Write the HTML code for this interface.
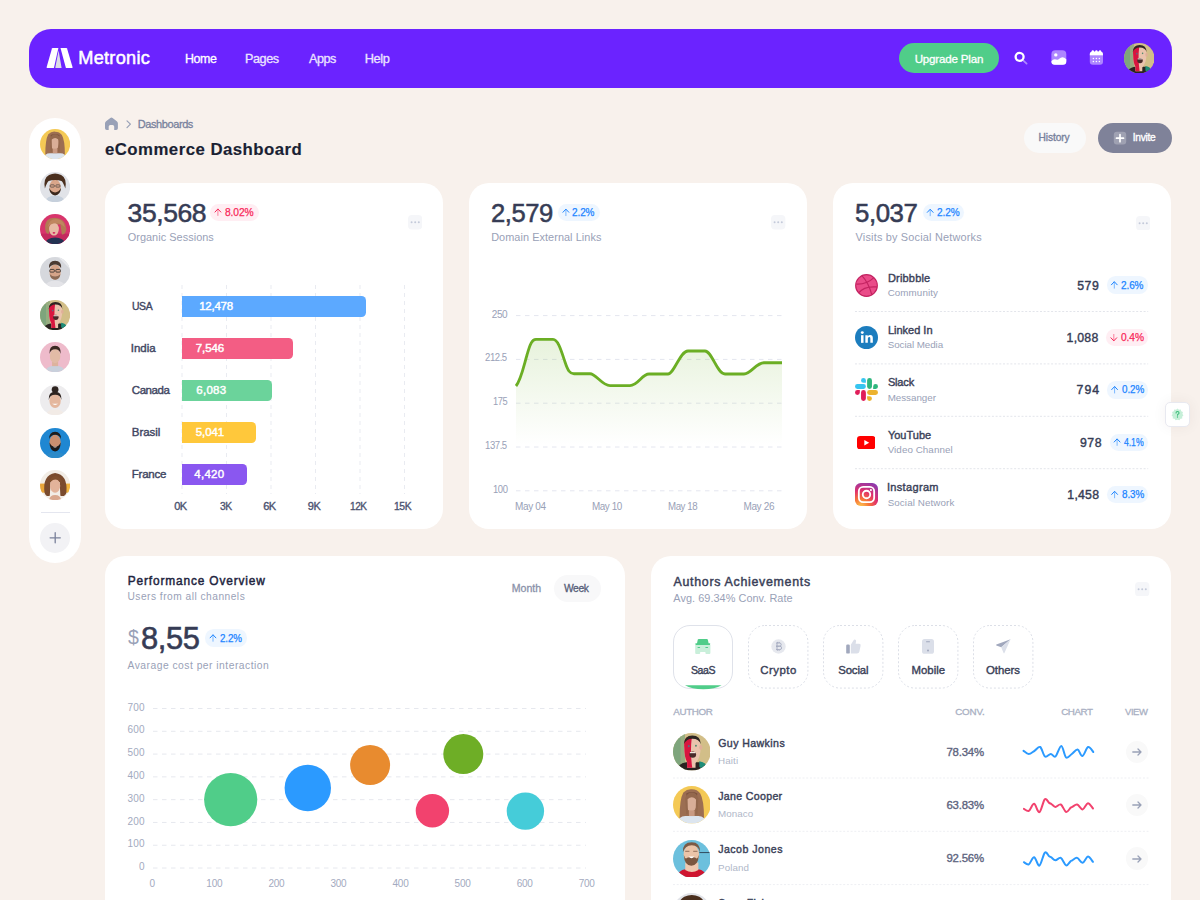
<!DOCTYPE html>
<html><head><meta charset="utf-8"><title>eCommerce Dashboard</title><style>*{margin:0;padding:0}
html,body{width:1200px;height:900px;overflow:hidden}
body{background:#F8F1EC;font-family:"Liberation Sans",sans-serif;position:relative}
.r,.a,.t{position:absolute}
.t{white-space:nowrap;line-height:1}
</style></head>
<body>
<div class="r" style="left:29px;top:28.5px;width:1142.5px;height:59px;border-radius:22px;background:#6B23FF"></div>
<svg class="a" style="left:46px;top:48px;width:27px;height:20px" viewBox="0 0 27 20"><path d="M1.2 20 L7.4 20 Q7.9 20 8.05 19.5 L12.4 0 L6.6 0 Q6.1 0 5.95 0.5 L0.6 19.3 Q0.45 20 1.2 20Z" fill="#fff"/><path d="M12.6 2.5 L9.3 19.6 Q9.2 20 9.6 20 L15.6 20 Z" fill="#DCDCE6"/><path d="M14.5 0 L20.4 0 Q20.9 0 21.05 0.5 L26.6 19.3 Q26.75 20 26 20 L20.4 20 Q19.9 20 19.75 19.5Z" fill="#fff"/></svg>
<div class="t" style="left:78.25px;top:49.00px;font-size:18.20px;color:#fff;letter-spacing:0.26px;-webkit-text-stroke:0.50px #fff;">Metronic</div>
<div class="t" style="left:184.68px;top:53.00px;font-size:12.80px;color:#fff;letter-spacing:-0.45px;-webkit-text-stroke:0.30px #fff;transform:scaleX(0.970);transform-origin:0 0;">Home</div>
<div class="t" style="left:245.16px;top:53.00px;font-size:12.80px;color:#EBE3FF;letter-spacing:-0.45px;-webkit-text-stroke:0.30px #EBE3FF;transform:scaleX(0.988);transform-origin:0 0;">Pages</div>
<div class="t" style="left:308.85px;top:53.00px;font-size:12.80px;color:#EBE3FF;letter-spacing:-0.45px;-webkit-text-stroke:0.30px #EBE3FF;transform:scaleX(0.985);transform-origin:0 0;">Apps</div>
<div class="t" style="left:364.75px;top:53.00px;font-size:12.80px;color:#EBE3FF;letter-spacing:-0.37px;-webkit-text-stroke:0.30px #EBE3FF;">Help</div>
<div class="r" style="left:899px;top:43px;width:99.5px;height:30px;border-radius:15px;background:#50CD89"></div>
<div class="t" style="left:914.65px;top:53.00px;font-size:11.60px;color:#fff;letter-spacing:-0.20px;-webkit-text-stroke:0.30px #fff;">Upgrade Plan</div>
<svg class="a" style="left:1010px;top:47px;width:22px;height:22px" viewBox="1010 47 22 22"><circle cx="1019.6" cy="56.8" r="4" fill="none" stroke="#fff" stroke-width="2.3"/><path d="M1023.4 60.6 L1026.6 63.6" stroke="#fff" stroke-opacity=".45" stroke-width="1.8" stroke-linecap="round"/></svg>
<svg class="a" style="left:1050px;top:49px;width:18px;height:17px" viewBox="1050 49 18 17"><rect x="1051.4" y="50.3" width="14.9" height="14.4" rx="4" fill="#fff" fill-opacity=".45"/><circle cx="1055.8" cy="54.9" r="1.7" fill="#fff"/><path d="M1051.4 61.2 Q1053.5 58.3 1056.3 59.6 Q1058 60.3 1059.2 58.8 Q1062.6 55.6 1066.3 59.2 L1066.3 61.5 Q1066.3 64.7 1063 64.7 L1054.6 64.7 Q1051.4 64.7 1051.4 61.5Z" fill="#fff"/></svg>
<svg class="a" style="left:1088px;top:48px;width:17px;height:18px" viewBox="1088 48 17 18"><path d="M1089.8 55.6 L1103 55.6 L1103 61.7 Q1103 64.7 1100 64.7 L1092.8 64.7 Q1089.8 64.7 1089.8 61.7Z" fill="#fff" fill-opacity=".45"/><path d="M1089.8 55.6 L1089.8 54.3 Q1089.8 51.6 1092.5 51.6 L1100.3 51.6 Q1103 51.6 1103 54.3 L1103 55.6Z" fill="#fff"/><circle cx="1092.8" cy="51.4" r="1.2" fill="#fff"/><circle cx="1096.4" cy="51.4" r="1.2" fill="#fff"/><circle cx="1100" cy="51.4" r="1.2" fill="#fff"/><g fill="#fff"><circle cx="1093.4" cy="58.6" r=".75"/><circle cx="1096.4" cy="58.6" r=".75"/><circle cx="1099.4" cy="58.6" r=".75"/><circle cx="1093.4" cy="61.4" r=".75"/><circle cx="1096.4" cy="61.4" r=".75"/><circle cx="1099.4" cy="61.4" r=".75"/></g></svg>
<svg class="a" style="left:1123.75px;top:42.75px;width:30.50px;height:30.50px" viewBox="0 0 40 40"><defs><clipPath id="chdr"><circle cx="20" cy="20" r="20"/></clipPath></defs><g clip-path="url(#chdr)"><rect width="40" height="40" fill="#D2BE88"/><path d="M0 0 H13 Q11 20 14 40 H0Z" fill="#7EA57C"/><path d="M8 0 H13 Q11 20 14 40 H8Z" fill="#A7B283" opacity=".6"/><path d="M3 40 Q6 32 14 31 L28 31 Q35 32 38 40Z" fill="#2A2321"/><path d="M28 30 Q34 31 36 35 L33 40 L28 36Z" fill="#1E8C78"/><path d="M12 16 Q11 4 20.5 4 Q30 4 29.5 16 Q29 27 24 32 L24 37 L15 37 L15 31 Q12 26 12 16Z" fill="#EAC3AD"/><path d="M12 16 Q11 5 16 4.5 L20 5 Q18 20 20.5 37 L15 37 L15 31 Q12 26 12 16Z" fill="#D8163F"/><path d="M11.5 12 Q12 2.6 20.5 2.6 Q29.5 2.6 29.6 12 Q28 6 20.5 6 Q14 6 11.5 12Z" fill="#2E2622"/><ellipse cx="29.6" cy="15.5" rx="1.6" ry="2.6" fill="#E0AF98"/><ellipse cx="21" cy="23" rx="3.6" ry="3.4" fill="#4A2A2A"/><rect x="18" y="20.2" width="6" height="1.3" fill="#F3E6E0"/><circle cx="16.8" cy="14" r="1.1" fill="#5C6B80"/><circle cx="24.4" cy="13.6" r="1" fill="#4E8A6E"/></g></svg>
<svg class="a" style="left:104px;top:116px;width:16px;height:16px" viewBox="104 116 16 16"><path d="M105 123.6 Q105 122.2 106.1 121.3 L110.3 117.9 Q111.45 117 112.6 117.9 L116.8 121.3 Q117.9 122.2 117.9 123.6 L117.9 128.3 Q117.9 130.1 116.1 130.1 L114.2 130.1 L114.2 126.6 Q114.2 125 112.6 125 L110.3 125 Q108.7 125 108.7 126.6 L108.7 130.1 L106.8 130.1 Q105 130.1 105 128.3Z" fill="#99A1B7"/></svg>
<svg class="a" style="left:124px;top:118px;width:10px;height:12px" viewBox="124 118 10 12"><path d="M127 120.8 L130.4 124.2 L127 127.6" fill="none" stroke="#99A1B7" stroke-width="1.2" stroke-linecap="round" stroke-linejoin="round"/></svg>
<div class="t" style="left:137.75px;top:119.00px;font-size:11.00px;color:#78829D;letter-spacing:-0.41px;-webkit-text-stroke:0.30px #78829D;">Dashboards</div>
<div class="t" style="left:104.98px;top:142.00px;font-size:16.80px;color:#1A1F33;font-weight:bold;letter-spacing:0.47px;-webkit-text-stroke:0.15px #1A1F33;">eCommerce Dashboard</div>
<div class="r" style="left:1023.5px;top:123px;width:62px;height:30px;border-radius:15px;background:#F9F9F9"></div>
<div class="t" style="left:1038.58px;top:133.00px;font-size:10.20px;color:#78829D;letter-spacing:-0.11px;-webkit-text-stroke:0.35px #78829D;">History</div>
<div class="r" style="left:1097.5px;top:123px;width:74px;height:30px;border-radius:15px;background:#7F8299"></div>
<svg class="a" style="left:1113px;top:131px;width:14px;height:14px" viewBox="1113 131 14 14"><rect x="1113.8" y="131.8" width="12.4" height="12.8" rx="3" fill="#fff" fill-opacity=".25"/><path d="M1120 134.7 V141.7 M1116.5 138.2 H1123.5" stroke="#fff" stroke-width="1.7" stroke-linecap="round"/></svg>
<div class="t" style="left:1132.77px;top:133.00px;font-size:10.20px;color:#fff;letter-spacing:-0.27px;-webkit-text-stroke:0.35px #fff;">Invite</div>
<div class="r" style="left:29px;top:117.6px;width:52.4px;height:445.6px;border-radius:26.2px;background:#fff"></div>
<svg class="a" style="left:40.10px;top:128.90px;width:30.20px;height:30.20px" viewBox="0 0 40 40"><defs><clipPath id="csb0"><circle cx="20" cy="20" r="20"/></clipPath></defs><g clip-path="url(#csb0)"><rect width="40" height="40" fill="#F4C955"/><path d="M7 34 Q7 14 11 7 Q15 3 20 3.5 Q26 3.5 29 8 Q33 15 33 34Z" fill="#9C6E52"/><path d="M14 8 Q20 5 26 8 L25 13 L15 13Z" fill="#7E543E"/><ellipse cx="19.6" cy="18.6" rx="5.6" ry="8.6" fill="#D9AE97"/><path d="M13 13 Q15 7 20 7 Q25 7 27 13 L26 30 L24 30 L24.5 14 Q20 10 15.5 14 L16 30 L14 30Z" fill="#94684D"/><path d="M4 40 Q6 32 13 32 L27 32 Q34 32 36 40Z" fill="#DCE5EF"/><rect x="17" y="26" width="6" height="6" fill="#C99A82"/></g></svg>
<svg class="a" style="left:40.10px;top:171.57px;width:30.20px;height:30.20px" viewBox="0 0 40 40"><defs><clipPath id="csb1"><circle cx="20" cy="20" r="20"/></clipPath></defs><g clip-path="url(#csb1)"><rect width="40" height="40" fill="#E1E3E8"/><path d="M6 40 Q9 31 20 31 Q31 31 34 40Z" fill="#C6D0DC"/><ellipse cx="20" cy="20" rx="7.5" ry="10" fill="#D9A68A"/><path d="M12 21 Q13 31 20 31 Q27 31 28 21 Q25 27 20 27 Q15 27 12 21Z" fill="#3B281C"/><path d="M6.5 22 Q4 8 12 4 Q20 0 28 4 Q36 8 33.5 22 Q31 14 28.5 12 Q20 9 11.5 12 Q9 14 6.5 22Z" fill="#4A2F1E"/><rect x="13.5" y="17" width="5.5" height="3" rx="1" fill="none" stroke="#333" stroke-width=".8"/><rect x="21" y="17" width="5.5" height="3" rx="1" fill="none" stroke="#333" stroke-width=".8"/></g></svg>
<svg class="a" style="left:40.10px;top:214.24px;width:30.20px;height:30.20px" viewBox="0 0 40 40"><defs><clipPath id="csb2"><circle cx="20" cy="20" r="20"/></clipPath></defs><g clip-path="url(#csb2)"><rect width="40" height="40" fill="#D8356C"/><rect x="0" y="26" width="40" height="14" fill="#C42A5E"/><path d="M5 40 Q9 31 20 31 Q31 31 35 40Z" fill="#243252"/><path d="M7 21 Q5 5 20 5 Q34 6 35 20 Q34 28 29 27 L27 14 L13 14 L12 26 Q8 27 7 21Z" fill="#B27A54"/><ellipse cx="18.5" cy="20" rx="6.5" ry="8.5" fill="#E8BBA5"/><path d="M10 17 Q13 5 24 7 Q32 9 33 18 Q25 9 14 14Z" fill="#C08660"/><ellipse cx="18.5" cy="25" rx="1.8" ry="1.2" fill="#D3245C"/></g></svg>
<svg class="a" style="left:40.10px;top:256.91px;width:30.20px;height:30.20px" viewBox="0 0 40 40"><defs><clipPath id="csb3"><circle cx="20" cy="20" r="20"/></clipPath></defs><g clip-path="url(#csb3)"><rect width="40" height="40" fill="#D6D8DD"/><path d="M24 0 L40 16 L40 0Z" fill="#E8E9EC"/><path d="M5 40 Q9 31 20 31 Q31 31 35 40Z" fill="#E4E4E8"/><ellipse cx="20" cy="20" rx="7.5" ry="10" fill="#D5A489"/><path d="M13 23 Q14 30 20 30 Q26 30 27 23 Q24 26 20 26 Q16 26 13 23Z" fill="#8B6A55"/><path d="M12 15 Q11 5 20 5 Q29 5 28 15 Q25 10 20 10 Q15 10 12 15Z" fill="#4A3A32"/><rect x="13" y="16.5" width="6" height="3.5" rx="1" fill="none" stroke="#222" stroke-width="1"/><rect x="21" y="16.5" width="6" height="3.5" rx="1" fill="none" stroke="#222" stroke-width="1"/></g></svg>
<svg class="a" style="left:40.10px;top:299.58px;width:30.20px;height:30.20px" viewBox="0 0 40 40"><defs><clipPath id="csb4"><circle cx="20" cy="20" r="20"/></clipPath></defs><g clip-path="url(#csb4)"><rect width="40" height="40" fill="#D2BE88"/><path d="M0 0 H13 Q11 20 14 40 H0Z" fill="#7EA57C"/><path d="M8 0 H13 Q11 20 14 40 H8Z" fill="#A7B283" opacity=".6"/><path d="M3 40 Q6 32 14 31 L28 31 Q35 32 38 40Z" fill="#2A2321"/><path d="M28 30 Q34 31 36 35 L33 40 L28 36Z" fill="#1E8C78"/><path d="M12 16 Q11 4 20.5 4 Q30 4 29.5 16 Q29 27 24 32 L24 37 L15 37 L15 31 Q12 26 12 16Z" fill="#EAC3AD"/><path d="M12 16 Q11 5 16 4.5 L20 5 Q18 20 20.5 37 L15 37 L15 31 Q12 26 12 16Z" fill="#D8163F"/><path d="M11.5 12 Q12 2.6 20.5 2.6 Q29.5 2.6 29.6 12 Q28 6 20.5 6 Q14 6 11.5 12Z" fill="#2E2622"/><ellipse cx="29.6" cy="15.5" rx="1.6" ry="2.6" fill="#E0AF98"/><ellipse cx="21" cy="23" rx="3.6" ry="3.4" fill="#4A2A2A"/><rect x="18" y="20.2" width="6" height="1.3" fill="#F3E6E0"/><circle cx="16.8" cy="14" r="1.1" fill="#5C6B80"/><circle cx="24.4" cy="13.6" r="1" fill="#4E8A6E"/></g></svg>
<svg class="a" style="left:40.10px;top:342.25px;width:30.20px;height:30.20px" viewBox="0 0 40 40"><defs><clipPath id="csb5"><circle cx="20" cy="20" r="20"/></clipPath></defs><g clip-path="url(#csb5)"><rect width="40" height="40" fill="#EEBBCB"/><path d="M6 40 Q9 31 20 31 Q31 31 34 40Z" fill="#C9D0DC"/><rect x="16" y="26" width="8" height="6" fill="#DDB39E"/><ellipse cx="20" cy="18.5" rx="7" ry="9.5" fill="#E2BBA6"/><path d="M12.5 16 Q12 5 20 5 Q28 5 27.5 16 Q26 9.5 20 9.5 Q14 9.5 12.5 16Z" fill="#3B2A22"/></g></svg>
<svg class="a" style="left:40.10px;top:384.92px;width:30.20px;height:30.20px" viewBox="0 0 40 40"><defs><clipPath id="csb6"><circle cx="20" cy="20" r="20"/></clipPath></defs><g clip-path="url(#csb6)"><rect width="40" height="40" fill="#EDECEE"/><path d="M7 40 Q10 32 20 32 Q30 32 33 40Z" fill="#F2EBE6"/><ellipse cx="20" cy="21" rx="7.5" ry="9.5" fill="#E4B79E"/><circle cx="20" cy="6" r="4.5" fill="#2E2420"/><path d="M11.5 20 Q11 9 20 9 Q29 9 28.5 20 Q27 13 20 13 Q13 13 11.5 20Z" fill="#2E2420"/><path d="M16 25 Q20 28 24 25Z" fill="#fff"/></g></svg>
<svg class="a" style="left:40.10px;top:427.59px;width:30.20px;height:30.20px" viewBox="0 0 40 40"><defs><clipPath id="csb7"><circle cx="20" cy="20" r="20"/></clipPath></defs><g clip-path="url(#csb7)"><rect width="40" height="40" fill="#1F87D2"/><path d="M5 40 Q9 31 20 31 Q31 31 35 40Z" fill="#2C8AC9"/><ellipse cx="20" cy="19" rx="7.5" ry="10" fill="#C98F70"/><path d="M12.5 19 Q13 31 20 31 Q27 31 27.5 19 Q25 25 20 25 Q15 25 12.5 19Z" fill="#1C1A1A"/><path d="M12 15 Q12 5 20 5 Q28 5 28 15 Q26 9 20 9 Q14 9 12 15Z" fill="#1E1C1C"/><path d="M17 25 Q20 27 23 25Z" fill="#fff"/></g></svg>
<svg class="a" style="left:40.10px;top:470.26px;width:30.20px;height:30.20px" viewBox="0 0 40 40"><defs><clipPath id="csb8"><circle cx="20" cy="20" r="20"/></clipPath></defs><g clip-path="url(#csb8)"><rect width="40" height="40" fill="#F2EDE6"/><rect x="0" y="18" width="9" height="12" fill="#E8A53A"/><rect x="31" y="18" width="9" height="12" fill="#F0B540"/><path d="M6 30 Q3 7 20 4 Q37 6 35 30 Q33 36 27 34 L26 16 L14 16 L13 34 Q8 36 6 30Z" fill="#7A4B2E"/><path d="M12 40 Q13 33 20 33 Q27 33 28 40Z" fill="#D9A88E"/><ellipse cx="20" cy="21" rx="6.8" ry="9" fill="#E2B39A"/><path d="M12 18 Q13 8 21 8 Q29 9 29 18 Q25 11 18 13 Q14 14 12 18Z" fill="#80502F"/></g></svg>
<div class="r" style="left:41px;top:512px;width:28.6px;height:1px;background:#E4E6EF"></div>
<div class="r" style="left:40px;top:523px;width:30.2px;height:30.2px;border-radius:50%;background:#F2F2F5"></div>
<svg class="a" style="left:48px;top:531px;width:14px;height:14px" viewBox="48 531 14 14"><path d="M55.2 532.7 V542.8 M50.1 537.8 H60.3" stroke="#7A819B" stroke-width="1.3" stroke-linecap="round"/></svg>
<div class="r" style="left:104.60px;top:182.80px;width:338.60px;height:346.30px;border-radius:20px;background:#fff"></div>
<div class="t" style="left:127.58px;top:200.00px;font-size:26.50px;color:#363C55;letter-spacing:-0.41px;-webkit-text-stroke:0.55px #363C55;">35,568</div>
<div class="r" style="left:210.30px;top:203.70px;width:48.40px;height:17.30px;border-radius:8.65px;background:#FFEEF3"></div>
<svg class="a" style="left:0;top:0;width:1200px;height:900px;overflow:visible" viewBox="0 0 1200 900"><g fill="none" stroke="#F8285A" stroke-width="1" stroke-linecap="round" stroke-linejoin="round"><path d="M215.00 212.05 L217.90 208.95 L220.80 212.05"/><path d="M217.90 209.15 V215.45" stroke-opacity=".55"/></g></svg>
<div class="t" style="left:224.82px;top:207.00px;font-size:10.50px;color:#F8285A;letter-spacing:-0.10px;-webkit-text-stroke:0.25px #F8285A;transform:scaleX(0.977);transform-origin:0 0;">8.02%</div>
<div class="t" style="left:127.70px;top:232.00px;font-size:10.90px;color:#99A1B7;letter-spacing:0.05px;">Organic Sessions</div>
<svg class="a" style="left:407.50px;top:215.20px;width:14.4px;height:14.4px" viewBox="0 0 14.4 14.4"><rect width="14.4" height="14.4" rx="4" fill="#F5F6F9"/><g fill="#C4CADA"><circle cx="3.6" cy="7.2" r="1"/><circle cx="7.2" cy="7.2" r="1"/><circle cx="10.8" cy="7.2" r="1"/></g></svg>
<svg class="a" style="left:0;top:0;width:1200px;height:900px" viewBox="0 0 1200 900"><g stroke="#E9EBF1" stroke-width="1" stroke-dasharray="4 4"><path d="M182.0 285 V494"/><path d="M226.5 285 V494"/><path d="M271.0 285 V494"/><path d="M315.5 285 V494"/><path d="M360.0 285 V494"/><path d="M404.5 285 V494"/></g></svg>
<div class="r" style="left:182px;top:295.75px;width:184.25px;height:21px;border-radius:0 4.5px 4.5px 0;background:#5CA9FF"></div>
<div class="t" style="left:131.78px;top:301.00px;font-size:11.50px;color:#3F4662;letter-spacing:-0.45px;-webkit-text-stroke:0.40px #3F4662;transform:scaleX(0.905);transform-origin:0 0;">USA</div>
<div class="t" style="left:199.22px;top:301.00px;font-size:11.50px;color:#fff;letter-spacing:-0.25px;-webkit-text-stroke:0.45px #fff;">12,478</div>
<div class="r" style="left:182px;top:337.80px;width:111.20px;height:21px;border-radius:0 4.5px 4.5px 0;background:#F35D84"></div>
<div class="t" style="left:130.80px;top:343.00px;font-size:11.50px;color:#3F4662;letter-spacing:-0.04px;-webkit-text-stroke:0.40px #3F4662;">India</div>
<div class="t" style="left:195.82px;top:343.00px;font-size:11.50px;color:#fff;letter-spacing:-0.11px;-webkit-text-stroke:0.45px #fff;">7,546</div>
<div class="r" style="left:182px;top:379.70px;width:89.70px;height:21px;border-radius:0 4.5px 4.5px 0;background:#6BD39B"></div>
<div class="t" style="left:131.80px;top:385.00px;font-size:11.50px;color:#3F4662;letter-spacing:-0.45px;-webkit-text-stroke:0.40px #3F4662;">Canada</div>
<div class="t" style="left:196.22px;top:385.00px;font-size:11.50px;color:#fff;letter-spacing:0.29px;-webkit-text-stroke:0.45px #fff;">6,083</div>
<div class="r" style="left:182px;top:421.60px;width:74.40px;height:21px;border-radius:0 4.5px 4.5px 0;background:#FFC83B"></div>
<div class="t" style="left:131.80px;top:427.00px;font-size:11.50px;color:#3F4662;letter-spacing:-0.06px;-webkit-text-stroke:0.40px #3F4662;">Brasil</div>
<div class="t" style="left:195.82px;top:427.00px;font-size:11.50px;color:#fff;letter-spacing:-0.11px;-webkit-text-stroke:0.45px #fff;">5,041</div>
<div class="r" style="left:182px;top:463.50px;width:65.20px;height:21px;border-radius:0 4.5px 4.5px 0;background:#8A57F0"></div>
<div class="t" style="left:131.80px;top:469.00px;font-size:11.50px;color:#3F4662;letter-spacing:-0.26px;-webkit-text-stroke:0.40px #3F4662;">France</div>
<div class="t" style="left:194.22px;top:469.00px;font-size:11.50px;color:#fff;letter-spacing:0.29px;-webkit-text-stroke:0.45px #fff;">4,420</div>
<div class="t" style="left:174.17px;top:501.00px;font-size:11.00px;color:#4B5270;letter-spacing:-0.45px;-webkit-text-stroke:0.35px #4B5270;">0K</div>
<div class="t" style="left:219.66px;top:501.00px;font-size:11.00px;color:#4B5270;letter-spacing:-0.45px;-webkit-text-stroke:0.35px #4B5270;transform:scaleX(0.935);transform-origin:0 0;">3K</div>
<div class="t" style="left:263.17px;top:501.00px;font-size:11.00px;color:#4B5270;letter-spacing:-0.45px;-webkit-text-stroke:0.35px #4B5270;">6K</div>
<div class="t" style="left:307.77px;top:501.00px;font-size:11.00px;color:#4B5270;letter-spacing:-0.45px;-webkit-text-stroke:0.35px #4B5270;">9K</div>
<div class="t" style="left:350.16px;top:501.00px;font-size:11.00px;color:#4B5270;letter-spacing:-0.45px;-webkit-text-stroke:0.35px #4B5270;transform:scaleX(0.914);transform-origin:0 0;">12K</div>
<div class="t" style="left:394.16px;top:501.00px;font-size:11.00px;color:#4B5270;letter-spacing:-0.45px;-webkit-text-stroke:0.35px #4B5270;transform:scaleX(0.940);transform-origin:0 0;">15K</div>
<div class="r" style="left:468.80px;top:182.80px;width:338.20px;height:346.30px;border-radius:20px;background:#fff"></div>
<div class="t" style="left:491.10px;top:200.00px;font-size:26.50px;color:#363C55;letter-spacing:-0.45px;-webkit-text-stroke:0.55px #363C55;transform:scaleX(0.966);transform-origin:0 0;">2,579</div>
<div class="r" style="left:558.30px;top:203.90px;width:41.40px;height:17.30px;border-radius:8.65px;background:#EEF6FF"></div>
<svg class="a" style="left:0;top:0;width:1200px;height:900px;overflow:visible" viewBox="0 0 1200 900"><g fill="none" stroke="#1B84FF" stroke-width="1" stroke-linecap="round" stroke-linejoin="round"><path d="M563.00 212.25 L565.90 209.15 L568.80 212.25"/><path d="M565.90 209.35 V215.65" stroke-opacity=".55"/></g></svg>
<div class="t" style="left:572.42px;top:207.00px;font-size:10.50px;color:#1B84FF;letter-spacing:-0.10px;-webkit-text-stroke:0.25px #1B84FF;transform:scaleX(0.951);transform-origin:0 0;">2.2%</div>
<div class="t" style="left:491.20px;top:232.00px;font-size:10.90px;color:#99A1B7;letter-spacing:0.06px;">Domain External Links</div>
<svg class="a" style="left:771.30px;top:215.40px;width:14.4px;height:14.4px" viewBox="0 0 14.4 14.4"><rect width="14.4" height="14.4" rx="4" fill="#F5F6F9"/><g fill="#C4CADA"><circle cx="3.6" cy="7.2" r="1"/><circle cx="7.2" cy="7.2" r="1"/><circle cx="10.8" cy="7.2" r="1"/></g></svg>
<svg class="a" style="left:0;top:0;width:1200px;height:900px" viewBox="0 0 1200 900"><g stroke="#E4E6EF" stroke-width="1" stroke-dasharray="4.5 4.5"><path d="M516 315.6 H783"/><path d="M516 359.4 H783"/><path d="M516 403.2 H783"/><path d="M516 447.0 H783"/><path d="M516 490.8 H783"/></g><defs><linearGradient id="ag" x1="0" y1="0" x2="0" y2="1"><stop offset="0" stop-color="#6BAE24" stop-opacity=".16"/><stop offset="1" stop-color="#6BAE24" stop-opacity="0"/></linearGradient></defs><path d="M516 386 C521 380 524 365 527 355 C530 344 532 339.4 536 339.4 L553 339.4 C558 339.4 561 350 565 362 C568 371 570 373.75 574 373.75 L590 373.75 C596 373.75 602 385.6 610 385.6 L630 385.6 C638 385.6 642 374 649 374 L668 374 C674 374 680 351 688 351 L705 351 C712 351 717 374 725 374 L744 374 C751 374 756 362.75 764 362.75 L782 362.75 L782 445 L516 445 Z" fill="url(#ag)"/><path d="M516 386 C521 380 524 365 527 355 C530 344 532 339.4 536 339.4 L553 339.4 C558 339.4 561 350 565 362 C568 371 570 373.75 574 373.75 L590 373.75 C596 373.75 602 385.6 610 385.6 L630 385.6 C638 385.6 642 374 649 374 L668 374 C674 374 680 351 688 351 L705 351 C712 351 717 374 725 374 L744 374 C751 374 756 362.75 764 362.75 L782 362.75" fill="none" stroke="#6BAE24" stroke-width="2.8" stroke-linejoin="round"/></svg>
<div class="t" style="left:491.80px;top:310.00px;font-size:10.00px;color:#99A1B7;letter-spacing:-0.45px;">250</div>
<div class="t" style="left:485.40px;top:353.00px;font-size:10.00px;color:#99A1B7;letter-spacing:-0.45px;transform:scaleX(0.955);transform-origin:0 0;">212.5</div>
<div class="t" style="left:493.00px;top:397.00px;font-size:10.00px;color:#99A1B7;letter-spacing:-0.45px;transform:scaleX(0.925);transform-origin:0 0;">175</div>
<div class="t" style="left:485.40px;top:441.00px;font-size:10.00px;color:#99A1B7;letter-spacing:-0.45px;transform:scaleX(0.955);transform-origin:0 0;">137.5</div>
<div class="t" style="left:492.70px;top:485.00px;font-size:10.00px;color:#99A1B7;letter-spacing:-0.45px;transform:scaleX(0.943);transform-origin:0 0;">100</div>
<div class="t" style="left:515.00px;top:502.00px;font-size:10.00px;color:#99A1B7;letter-spacing:-0.33px;">May 04</div>
<div class="t" style="left:591.80px;top:502.00px;font-size:10.00px;color:#99A1B7;letter-spacing:-0.45px;transform:scaleX(0.988);transform-origin:0 0;">May 10</div>
<div class="t" style="left:668.00px;top:502.00px;font-size:10.00px;color:#99A1B7;letter-spacing:-0.45px;transform:scaleX(0.968);transform-origin:0 0;">May 18</div>
<div class="t" style="left:743.40px;top:502.00px;font-size:10.00px;color:#99A1B7;letter-spacing:-0.33px;">May 26</div>
<div class="r" style="left:832.60px;top:182.80px;width:338.60px;height:346.30px;border-radius:20px;background:#fff"></div>
<div class="t" style="left:854.89px;top:200.00px;font-size:26.50px;color:#363C55;letter-spacing:-0.45px;-webkit-text-stroke:0.55px #363C55;transform:scaleX(0.974);transform-origin:0 0;">5,037</div>
<div class="r" style="left:922.60px;top:204.00px;width:41.70px;height:17.30px;border-radius:8.65px;background:#EEF6FF"></div>
<svg class="a" style="left:0;top:0;width:1200px;height:900px;overflow:visible" viewBox="0 0 1200 900"><g fill="none" stroke="#1B84FF" stroke-width="1" stroke-linecap="round" stroke-linejoin="round"><path d="M927.30 212.35 L930.20 209.25 L933.10 212.35"/><path d="M930.20 209.45 V215.75" stroke-opacity=".55"/></g></svg>
<div class="t" style="left:936.62px;top:207.00px;font-size:10.50px;color:#1B84FF;letter-spacing:-0.10px;-webkit-text-stroke:0.25px #1B84FF;transform:scaleX(0.956);transform-origin:0 0;">2.2%</div>
<div class="t" style="left:855.60px;top:232.00px;font-size:10.90px;color:#99A1B7;letter-spacing:0.19px;">Visits by Social Networks</div>
<svg class="a" style="left:1135.60px;top:215.60px;width:14.4px;height:14.4px" viewBox="0 0 14.4 14.4"><rect width="14.4" height="14.4" rx="4" fill="#F5F6F9"/><g fill="#C4CADA"><circle cx="3.6" cy="7.2" r="1"/><circle cx="7.2" cy="7.2" r="1"/><circle cx="10.8" cy="7.2" r="1"/></g></svg>
<svg class="a" style="left:0;top:0;width:1200px;height:900px" viewBox="0 0 1200 900"><g stroke="#E3E5EB" stroke-width="1" stroke-dasharray="2 1.7"><path d="M855 311.5 H1148.2"/><path d="M855 363.9 H1148.2"/><path d="M855 416.3 H1148.2"/><path d="M855 468.7 H1148.2"/></g></svg>
<svg class="a" style="left:854.80px;top:273.60px;width:23px;height:23px" viewBox="0 0 24 24"><circle cx="12" cy="12" r="11.3" fill="#EA4C89" stroke="#C32361" stroke-width="1.2"/><g fill="none" stroke="#C32361" stroke-width="1.2"><path d="M1.5 10.5 Q12 11 19.5 4"/><path d="M7.2 1.8 Q14 9 17.5 21.5"/><path d="M4.2 19.5 Q9 12.5 22.7 13.5"/></g></svg>
<div class="t" style="left:887.90px;top:273.00px;font-size:11.00px;color:#3A3F58;letter-spacing:0.19px;-webkit-text-stroke:0.40px #3A3F58;">Dribbble</div>
<div class="t" style="left:887.70px;top:288.00px;font-size:9.80px;color:#99A1B7;letter-spacing:0.08px;">Community</div>
<div class="r" style="left:1106.70px;top:276.45px;width:41.50px;height:17.30px;border-radius:8.65px;background:#EEF6FF"></div>
<svg class="a" style="left:0;top:0;width:1200px;height:900px;overflow:visible" viewBox="0 0 1200 900"><g fill="none" stroke="#1B84FF" stroke-width="1" stroke-linecap="round" stroke-linejoin="round"><path d="M1111.40 284.80 L1114.30 281.70 L1117.20 284.80"/><path d="M1114.30 281.90 V288.20" stroke-opacity=".55"/></g></svg>
<div class="t" style="left:1121.22px;top:280.00px;font-size:10.50px;color:#1B84FF;letter-spacing:-0.10px;-webkit-text-stroke:0.25px #1B84FF;transform:scaleX(0.951);transform-origin:0 0;">2.6%</div>
<div class="t" style="left:1077.30px;top:280.00px;font-size:12.30px;color:#363C55;letter-spacing:0.46px;-webkit-text-stroke:0.40px #363C55;">579</div>
<svg class="a" style="left:854.80px;top:326.00px;width:23px;height:23px" viewBox="0 0 24 24"><circle cx="12" cy="12" r="12" fill="#1C7DBE"/><rect x="6.3" y="9.6" width="2.6" height="8" fill="#fff"/><circle cx="7.6" cy="6.9" r="1.55" fill="#fff"/><path d="M10.8 9.6 H13.3 V10.8 Q14.2 9.4 16 9.4 Q18.6 9.4 18.6 12.6 V17.6 H16 V13.1 Q16 11.6 14.8 11.6 Q13.4 11.6 13.4 13.2 V17.6 H10.8Z" fill="#fff"/></svg>
<div class="t" style="left:887.90px;top:325.00px;font-size:11.00px;color:#3A3F58;-webkit-text-stroke:0.40px #3A3F58;">Linked In</div>
<div class="t" style="left:887.70px;top:340.00px;font-size:9.80px;color:#99A1B7;letter-spacing:-0.06px;">Social Media</div>
<div class="r" style="left:1106.20px;top:328.85px;width:42.00px;height:17.30px;border-radius:8.65px;background:#FFEEF3"></div>
<svg class="a" style="left:0;top:0;width:1200px;height:900px;overflow:visible" viewBox="0 0 1200 900"><g fill="none" stroke="#F8285A" stroke-width="1" stroke-linecap="round" stroke-linejoin="round"><path d="M1110.90 337.80 L1113.80 340.90 L1116.70 337.80"/><path d="M1113.80 340.70 V334.40" stroke-opacity=".55"/></g></svg>
<div class="t" style="left:1120.72px;top:332.00px;font-size:10.50px;color:#F8285A;letter-spacing:-0.10px;-webkit-text-stroke:0.25px #F8285A;transform:scaleX(0.973);transform-origin:0 0;">0.4%</div>
<div class="t" style="left:1066.60px;top:332.00px;font-size:12.30px;color:#363C55;letter-spacing:0.22px;-webkit-text-stroke:0.40px #363C55;">1,088</div>
<svg class="a" style="left:854.80px;top:378.40px;width:23px;height:23px" viewBox="0 0 24 24"><path d="M5.042 15.165a2.528 2.528 0 0 1-2.52 2.523A2.528 2.528 0 0 1 0 15.165a2.527 2.527 0 0 1 2.522-2.52h2.52v2.52z" fill="#E01E5A"/><path d="M6.313 15.165a2.527 2.527 0 0 1 2.521-2.52 2.527 2.527 0 0 1 2.521 2.52v6.313A2.528 2.528 0 0 1 8.834 24a2.528 2.528 0 0 1-2.521-2.522v-6.313z" fill="#E01E5A"/><path d="M8.834 5.042a2.528 2.528 0 0 1-2.521-2.52A2.528 2.528 0 0 1 8.834 0a2.528 2.528 0 0 1 2.521 2.522v2.52H8.834z" fill="#36C5F0"/><path d="M8.834 6.313a2.528 2.528 0 0 1 2.521 2.521 2.528 2.528 0 0 1-2.521 2.521H2.522A2.528 2.528 0 0 1 0 8.834a2.528 2.528 0 0 1 2.522-2.521h6.312z" fill="#36C5F0"/><path d="M18.956 8.834a2.528 2.528 0 0 1 2.522-2.521A2.528 2.528 0 0 1 24 8.834a2.528 2.528 0 0 1-2.522 2.521h-2.522V8.834z" fill="#2EB67D"/><path d="M17.688 8.834a2.528 2.528 0 0 1-2.523 2.521 2.527 2.527 0 0 1-2.52-2.521V2.522A2.527 2.527 0 0 1 15.165 0a2.528 2.528 0 0 1 2.523 2.522v6.312z" fill="#2EB67D"/><path d="M15.165 18.956a2.528 2.528 0 0 1 2.523 2.522A2.528 2.528 0 0 1 15.165 24a2.527 2.527 0 0 1-2.52-2.522v-2.522h2.52z" fill="#ECB22E"/><path d="M15.165 17.688a2.527 2.527 0 0 1-2.52-2.523 2.526 2.526 0 0 1 2.52-2.52h6.313A2.527 2.527 0 0 1 24 15.165a2.528 2.528 0 0 1-2.522 2.523h-6.313z" fill="#ECB22E"/></svg>
<div class="t" style="left:887.90px;top:377.00px;font-size:11.00px;color:#3A3F58;letter-spacing:-0.15px;-webkit-text-stroke:0.40px #3A3F58;">Slack</div>
<div class="t" style="left:887.70px;top:393.00px;font-size:9.80px;color:#99A1B7;letter-spacing:-0.03px;">Messanger</div>
<div class="r" style="left:1107.00px;top:381.25px;width:41.20px;height:17.30px;border-radius:8.65px;background:#EEF6FF"></div>
<svg class="a" style="left:0;top:0;width:1200px;height:900px;overflow:visible" viewBox="0 0 1200 900"><g fill="none" stroke="#1B84FF" stroke-width="1" stroke-linecap="round" stroke-linejoin="round"><path d="M1111.70 389.60 L1114.60 386.50 L1117.50 389.60"/><path d="M1114.60 386.70 V393.00" stroke-opacity=".55"/></g></svg>
<div class="t" style="left:1121.52px;top:384.00px;font-size:10.50px;color:#1B84FF;letter-spacing:-0.10px;-webkit-text-stroke:0.25px #1B84FF;transform:scaleX(0.939);transform-origin:0 0;">0.2%</div>
<div class="t" style="left:1076.60px;top:384.00px;font-size:12.30px;color:#363C55;letter-spacing:0.96px;-webkit-text-stroke:0.40px #363C55;">794</div>
<svg class="a" style="left:857.10px;top:435.60px;width:18.4px;height:13.4px" viewBox="0 0 18.4 13.4"><rect width="18.4" height="13.4" rx="3.2" fill="#FF0000"/><path d="M7.3 3.9 L12.2 6.7 L7.3 9.5Z" fill="#fff"/></svg>
<div class="t" style="left:887.90px;top:430.00px;font-size:11.00px;color:#3A3F58;-webkit-text-stroke:0.40px #3A3F58;">YouTube</div>
<div class="t" style="left:887.70px;top:445.00px;font-size:9.80px;color:#99A1B7;letter-spacing:0.07px;">Video Channel</div>
<div class="r" style="left:1109.50px;top:433.65px;width:38.70px;height:17.30px;border-radius:8.65px;background:#EEF6FF"></div>
<svg class="a" style="left:0;top:0;width:1200px;height:900px;overflow:visible" viewBox="0 0 1200 900"><g fill="none" stroke="#1B84FF" stroke-width="1" stroke-linecap="round" stroke-linejoin="round"><path d="M1114.20 442.00 L1117.10 438.90 L1120.00 442.00"/><path d="M1117.10 439.10 V445.40" stroke-opacity=".55"/></g></svg>
<div class="t" style="left:1124.00px;top:437.00px;font-size:10.50px;color:#1B84FF;letter-spacing:-0.10px;-webkit-text-stroke:0.25px #1B84FF;transform:scaleX(0.832);transform-origin:0 0;">4.1%</div>
<div class="t" style="left:1079.90px;top:437.00px;font-size:12.30px;color:#363C55;letter-spacing:0.56px;-webkit-text-stroke:0.40px #363C55;">978</div>
<svg class="a" style="left:854.80px;top:483.20px;width:23px;height:23px" viewBox="0 0 24 24"><defs><radialGradient id="ig" cx="0.25" cy="1.05" r="1.2"><stop offset="0" stop-color="#FDCB52"/><stop offset=".3" stop-color="#F77737"/><stop offset=".6" stop-color="#E1306C"/><stop offset="1" stop-color="#833AB4"/></radialGradient></defs><rect width="24" height="24" rx="6" fill="url(#ig)"/><rect x="4" y="4" width="16" height="16" rx="4.5" fill="none" stroke="#fff" stroke-width="1.9"/><circle cx="12" cy="12" r="3.9" fill="none" stroke="#fff" stroke-width="1.9"/><circle cx="16.6" cy="7.4" r="1.1" fill="#fff"/></svg>
<div class="t" style="left:886.90px;top:482.00px;font-size:11.00px;color:#3A3F58;letter-spacing:0.34px;-webkit-text-stroke:0.40px #3A3F58;">Instagram</div>
<div class="t" style="left:887.70px;top:498.00px;font-size:9.80px;color:#99A1B7;letter-spacing:0.10px;">Social Network</div>
<div class="r" style="left:1107.00px;top:486.05px;width:41.20px;height:17.30px;border-radius:8.65px;background:#EEF6FF"></div>
<svg class="a" style="left:0;top:0;width:1200px;height:900px;overflow:visible" viewBox="0 0 1200 900"><g fill="none" stroke="#1B84FF" stroke-width="1" stroke-linecap="round" stroke-linejoin="round"><path d="M1111.70 494.40 L1114.60 491.30 L1117.50 494.40"/><path d="M1114.60 491.50 V497.80" stroke-opacity=".55"/></g></svg>
<div class="t" style="left:1121.52px;top:489.00px;font-size:10.50px;color:#1B84FF;letter-spacing:-0.10px;-webkit-text-stroke:0.25px #1B84FF;transform:scaleX(0.939);transform-origin:0 0;">8.3%</div>
<div class="t" style="left:1067.30px;top:489.00px;font-size:12.30px;color:#363C55;letter-spacing:0.24px;-webkit-text-stroke:0.40px #363C55;">1,458</div>
<div class="r" style="left:1164.8px;top:401.8px;width:25.4px;height:25.6px;border-radius:5px;background:#fff;border:1px solid #E8E9F0;box-sizing:border-box;box-shadow:0 0 14px rgba(60,40,30,.06)"></div>
<svg class="a" style="left:1171px;top:408px;width:13px;height:13px" viewBox="0 0 24 24"><path d="M12 1 L14.6 3.2 L18 2.8 L18.9 6.1 L22 7.6 L21 10.9 L23 13.6 L20.6 16 L20.8 19.4 L17.4 19.9 L15.6 22.8 L12 21.6 L8.4 22.8 L6.6 19.9 L3.2 19.4 L3.4 16 L1 13.6 L3 10.9 L2 7.6 L5.1 6.1 L6 2.8 L9.4 3.2Z" fill="#C6EFD8"/><path d="M9.3 9.3 Q9.3 6.6 12 6.6 Q14.8 6.6 14.8 9.2 Q14.8 10.8 12.9 11.6 Q12 12 12 13.4" fill="none" stroke="#3DBE7A" stroke-width="2" stroke-linecap="round"/><circle cx="12" cy="16.6" r="1.2" fill="#3DBE7A"/></svg>
<div class="r" style="left:104.60px;top:555.80px;width:520.00px;height:420.00px;border-radius:20px;background:#fff"></div>
<div class="t" style="left:127.72px;top:576.00px;font-size:11.90px;color:#1E2440;letter-spacing:0.85px;-webkit-text-stroke:0.45px #1E2440;">Performance Overview</div>
<div class="t" style="left:127.50px;top:592.00px;font-size:10.20px;color:#99A1B7;letter-spacing:0.49px;">Users from all channels</div>
<div class="t" style="left:511.75px;top:583.00px;font-size:10.60px;color:#8A92AA;letter-spacing:-0.04px;-webkit-text-stroke:0.30px #8A92AA;">Month</div>
<div class="r" style="left:554px;top:574.9px;width:46.5px;height:27.2px;border-radius:13.6px;background:#F8F8F9"></div>
<div class="t" style="left:564.35px;top:583.00px;font-size:10.60px;color:#555D78;letter-spacing:-0.45px;-webkit-text-stroke:0.30px #555D78;transform:scaleX(0.972);transform-origin:0 0;">Week</div>
<div class="t" style="left:127.90px;top:628.00px;font-size:19.50px;color:#99A1B7;">$</div>
<div class="t" style="left:141.21px;top:623.00px;font-size:31.20px;color:#363C55;letter-spacing:-0.45px;-webkit-text-stroke:0.60px #363C55;transform:scaleX(0.991);transform-origin:0 0;">8,55</div>
<div class="r" style="left:205.40px;top:629.40px;width:41.30px;height:17.50px;border-radius:8.75px;background:#EEF6FF"></div>
<svg class="a" style="left:0;top:0;width:1200px;height:900px;overflow:visible" viewBox="0 0 1200 900"><g fill="none" stroke="#1B84FF" stroke-width="1" stroke-linecap="round" stroke-linejoin="round"><path d="M210.10 637.85 L213.00 634.75 L215.90 637.85"/><path d="M213.00 634.95 V641.25" stroke-opacity=".55"/></g></svg>
<div class="t" style="left:219.62px;top:633.00px;font-size:10.50px;color:#1B84FF;letter-spacing:-0.10px;-webkit-text-stroke:0.25px #1B84FF;transform:scaleX(0.934);transform-origin:0 0;">2.2%</div>
<div class="t" style="left:127.50px;top:661.00px;font-size:10.30px;color:#99A1B7;letter-spacing:0.49px;">Avarage cost per interaction</div>
<svg class="a" style="left:0;top:0;width:1200px;height:900px" viewBox="0 0 1200 900"><g stroke="#E6E8EE" stroke-width="1" stroke-dasharray="4.5 4.5"><path d="M153 708.50 H586"/><path d="M153 731.29 H586"/><path d="M153 754.08 H586"/><path d="M153 776.87 H586"/><path d="M153 799.66 H586"/><path d="M153 822.45 H586"/><path d="M153 845.24 H586"/><path d="M153 868.03 H586"/></g><circle cx="230.7" cy="799.6" r="26.6" fill="#50CD89"/><circle cx="307.8" cy="788.0" r="23.2" fill="#2B9AFF"/><circle cx="370.1" cy="765.1" r="20.0" fill="#E88B2F"/><circle cx="432.4" cy="810.8" r="16.7" fill="#F2426E"/><circle cx="463.3" cy="754.1" r="20.0" fill="#6EAE26"/><circle cx="525.4" cy="811.1" r="18.7" fill="#45CCD9"/></svg>
<div class="t" style="left:127.40px;top:703.00px;font-size:10.00px;color:#A3AAC0;letter-spacing:0.24px;">700</div>
<div class="t" style="left:127.40px;top:725.00px;font-size:10.00px;color:#A3AAC0;letter-spacing:0.24px;">600</div>
<div class="t" style="left:127.40px;top:748.00px;font-size:10.00px;color:#A3AAC0;letter-spacing:0.24px;">500</div>
<div class="t" style="left:127.40px;top:771.00px;font-size:10.00px;color:#A3AAC0;letter-spacing:0.24px;">400</div>
<div class="t" style="left:127.40px;top:794.00px;font-size:10.00px;color:#A3AAC0;letter-spacing:0.24px;">300</div>
<div class="t" style="left:127.40px;top:817.00px;font-size:10.00px;color:#A3AAC0;letter-spacing:0.24px;">200</div>
<div class="t" style="left:127.40px;top:839.00px;font-size:10.00px;color:#A3AAC0;letter-spacing:0.24px;">100</div>
<div class="t" style="left:139.00px;top:862.00px;font-size:10.00px;color:#A3AAC0;">0</div>
<div class="t" style="left:149.60px;top:879.00px;font-size:10.00px;color:#A3AAC0;">0</div>
<div class="t" style="left:206.36px;top:879.00px;font-size:10.00px;color:#A3AAC0;letter-spacing:-0.26px;">100</div>
<div class="t" style="left:268.42px;top:879.00px;font-size:10.00px;color:#A3AAC0;letter-spacing:-0.26px;">200</div>
<div class="t" style="left:330.48px;top:879.00px;font-size:10.00px;color:#A3AAC0;letter-spacing:-0.26px;">300</div>
<div class="t" style="left:392.54px;top:879.00px;font-size:10.00px;color:#A3AAC0;letter-spacing:-0.26px;">400</div>
<div class="t" style="left:454.60px;top:879.00px;font-size:10.00px;color:#A3AAC0;letter-spacing:-0.26px;">500</div>
<div class="t" style="left:516.66px;top:879.00px;font-size:10.00px;color:#A3AAC0;letter-spacing:-0.26px;">600</div>
<div class="t" style="left:578.72px;top:879.00px;font-size:10.00px;color:#A3AAC0;letter-spacing:-0.26px;">700</div>
<div class="r" style="left:651.00px;top:555.80px;width:520.00px;height:420.00px;border-radius:20px;background:#fff"></div>
<div class="t" style="left:673.52px;top:576.00px;font-size:12.40px;color:#3A3F58;letter-spacing:0.70px;-webkit-text-stroke:0.45px #3A3F58;">Authors Achievements</div>
<div class="t" style="left:673.30px;top:593.00px;font-size:10.90px;color:#99A1B7;letter-spacing:0.05px;">Avg. 69.34% Conv. Rate</div>
<svg class="a" style="left:1135.40px;top:582.00px;width:14.4px;height:14.4px" viewBox="0 0 14.4 14.4"><rect width="14.4" height="14.4" rx="4" fill="#F5F6F9"/><g fill="#C4CADA"><circle cx="3.6" cy="7.2" r="1"/><circle cx="7.2" cy="7.2" r="1"/><circle cx="10.8" cy="7.2" r="1"/></g></svg>
<div class="r" style="left:673.30px;top:625.3px;width:59.6px;height:63.6px;border-radius:17px;border:1px solid #DFE2EA;box-sizing:border-box;background:#fff"></div>
<svg class="a" style="left:0;top:0;width:1200px;height:900px" viewBox="0 0 1200 900"><path d="M685 685.2 H721.6 Q715 689.2 703.3 689.2 Q691.6 689.2 685 685.2Z" fill="#50CD89"/></svg>
<svg class="a" style="left:695.30px;top:639.10px;width:16px;height:16px" viewBox="0 0 16 16"><path d="M0.2 5.7 H15.4 V13.8 Q15.4 15 14.4 15 H11.4 Q10.4 15 10.4 14 V13 H5.2 V14 Q5.2 15 4.2 15 H1.2 Q0.2 15 0.2 13.8Z" fill="#C9EFDA"/><path d="M2.8 0.6 Q3 0 3.8 0 H11.8 Q12.6 0 12.8 0.6 L13.6 4.2 H14.8 Q15.4 4.2 15.2 5 L14.9 5.9 H0.7 L0.4 5 Q0.2 4.2 0.8 4.2 H2Z" fill="#50CD89"/><rect x="2.5" y="7.9" width="2.6" height="1.1" rx=".5" fill="#50CD89"/><rect x="10.3" y="7.9" width="2.8" height="1.1" rx=".5" fill="#50CD89"/></svg>
<div class="t" style="left:690.64px;top:665.00px;font-size:11.40px;color:#3A3F58;letter-spacing:-0.45px;-webkit-text-stroke:0.40px #3A3F58;transform:scaleX(0.926);transform-origin:0 0;">SaaS</div>
<svg class="a" style="left:748.30px;top:625.3px;width:60.4px;height:63.6px" viewBox="0 0 60.4 63.6"><rect x=".5" y=".5" width="59.4" height="62.6" rx="16.5" fill="none" stroke="#DCDFE7" stroke-width="1" stroke-dasharray="2 2"/></svg>
<svg class="a" style="left:770.60px;top:639.10px;width:15px;height:15px" viewBox="0 0 15 15"><circle cx="7.5" cy="7.5" r="7.2" fill="#E6E8EE"/><path d="M5 4 H8.4 Q10.2 4 10.2 5.6 Q10.2 7.2 8.4 7.2 H5 M5 7.2 H8.8 Q10.6 7.2 10.6 8.9 Q10.6 10.6 8.8 10.6 H5 M6 4 V10.6 M6.6 2.9 V4 M8.2 2.9 V4 M6.6 10.6 V11.7 M8.2 10.6 V11.7" fill="none" stroke="#A1A8BD" stroke-width="0.9"/></svg>
<div class="t" style="left:760.20px;top:665.00px;font-size:11.40px;color:#3A3F58;letter-spacing:0.52px;-webkit-text-stroke:0.40px #3A3F58;">Crypto</div>
<svg class="a" style="left:823.30px;top:625.3px;width:60.4px;height:63.6px" viewBox="0 0 60.4 63.6"><rect x=".5" y=".5" width="59.4" height="62.6" rx="16.5" fill="none" stroke="#DCDFE7" stroke-width="1" stroke-dasharray="2 2"/></svg>
<svg class="a" style="left:845.70px;top:639.10px;width:15px;height:15px" viewBox="0 0 15 15"><rect x="0.2" y="5.6" width="3.6" height="9" rx="1.2" fill="#A1A8BD"/><path d="M4.8 5.8 L7.6 1.2 Q8 0.3 9 0.4 Q10.4 0.7 10.1 2.3 L9.6 4.8 H13.2 Q15 4.8 14.6 6.8 L13.4 12.6 Q13 14.6 11 14.6 H4.8Z" fill="#DBDFE9"/></svg>
<div class="t" style="left:838.25px;top:665.00px;font-size:11.40px;color:#3A3F58;letter-spacing:-0.16px;-webkit-text-stroke:0.40px #3A3F58;">Social</div>
<svg class="a" style="left:898.30px;top:625.3px;width:60.4px;height:63.6px" viewBox="0 0 60.4 63.6"><rect x=".5" y=".5" width="59.4" height="62.6" rx="16.5" fill="none" stroke="#DCDFE7" stroke-width="1" stroke-dasharray="2 2"/></svg>
<svg class="a" style="left:922.10px;top:639.20px;width:12px;height:15px" viewBox="0 0 12 15"><rect x="0" y="0" width="12" height="14.8" rx="2.6" fill="#DBDFE9"/><rect x="4" y="2.3" width="4" height="1" rx=".5" fill="#A1A8BD"/><circle cx="6" cy="11.6" r="1" fill="#A1A8BD"/></svg>
<div class="t" style="left:911.45px;top:665.00px;font-size:11.40px;color:#3A3F58;letter-spacing:0.02px;-webkit-text-stroke:0.40px #3A3F58;">Mobile</div>
<svg class="a" style="left:973.30px;top:625.3px;width:60.4px;height:63.6px" viewBox="0 0 60.4 63.6"><rect x=".5" y=".5" width="59.4" height="62.6" rx="16.5" fill="none" stroke="#DCDFE7" stroke-width="1" stroke-dasharray="2 2"/></svg>
<svg class="a" style="left:995.60px;top:639.30px;width:15px;height:15px" viewBox="0 0 15 15"><path d="M14.6 0.3 L0.4 5.6 Q-0.2 6 0.4 6.4 L5.2 8.2 Z" fill="#A1A8BD"/><path d="M14.6 0.3 L5.2 8.2 L7.6 14 Q8 14.8 8.4 14 Z" fill="#DBDFE9"/></svg>
<div class="t" style="left:986.05px;top:665.00px;font-size:11.40px;color:#3A3F58;letter-spacing:-0.08px;-webkit-text-stroke:0.40px #3A3F58;">Others</div>
<div class="t" style="left:673.35px;top:707.00px;font-size:9.80px;color:#A9B0C3;letter-spacing:-0.40px;-webkit-text-stroke:0.30px #A9B0C3;">AUTHOR</div>
<div class="t" style="left:955.15px;top:707.00px;font-size:9.80px;color:#A9B0C3;letter-spacing:-0.13px;-webkit-text-stroke:0.30px #A9B0C3;">CONV.</div>
<div class="t" style="left:1061.15px;top:707.00px;font-size:9.80px;color:#A9B0C3;letter-spacing:-0.45px;-webkit-text-stroke:0.30px #A9B0C3;">CHART</div>
<div class="t" style="left:1124.74px;top:707.00px;font-size:9.80px;color:#A9B0C3;letter-spacing:-0.45px;-webkit-text-stroke:0.30px #A9B0C3;transform:scaleX(0.966);transform-origin:0 0;">VIEW</div>
<svg class="a" style="left:0;top:0;width:1200px;height:900px" viewBox="0 0 1200 900"><g stroke="#EEEFF3" stroke-width="1" stroke-dasharray="2 1.7"><path d="M673 778.0 H1148.5"/><path d="M673 831.3 H1148.5"/><path d="M673 884.6 H1148.5"/></g><path d="M1023.50 750.80 C1024.37 751.33 1026.87 754.00 1028.70 754.00 C1030.53 754.00 1032.58 751.97 1034.50 750.80 C1036.42 749.63 1038.45 746.05 1040.20 747.00 C1041.95 747.95 1043.23 755.33 1045.00 756.50 C1046.77 757.67 1049.05 754.00 1050.80 754.00 C1052.55 754.00 1053.75 757.83 1055.50 756.50 C1057.25 755.17 1059.53 745.83 1061.30 746.00 C1063.07 746.17 1064.35 756.17 1066.10 757.50 C1067.85 758.83 1069.88 755.33 1071.80 754.00 C1073.72 752.67 1075.83 749.17 1077.60 749.50 C1079.37 749.83 1080.65 756.42 1082.40 756.00 C1084.15 755.58 1086.28 747.67 1088.10 747.00 C1089.92 746.33 1092.43 751.17 1093.30 752.00" fill="none" stroke="#2B9AFF" stroke-width="2" stroke-linejoin="round" stroke-linecap="round"/><path d="M1023.90 808.80 C1024.72 809.15 1027.10 811.73 1028.80 810.90 C1030.50 810.07 1032.33 803.58 1034.10 803.80 C1035.87 804.02 1037.62 812.95 1039.40 812.20 C1041.18 811.45 1043.17 800.85 1044.80 799.30 C1046.43 797.75 1048.10 802.12 1049.20 802.90 C1050.30 803.68 1050.37 803.33 1051.40 804.00 C1052.43 804.67 1053.83 806.82 1055.40 806.90 C1056.97 806.98 1059.02 803.65 1060.80 804.50 C1062.58 805.35 1064.47 811.45 1066.10 812.00 C1067.73 812.55 1069.57 808.65 1070.60 807.80 C1071.63 806.95 1071.20 807.45 1072.30 806.90 C1073.40 806.35 1075.48 804.08 1077.20 804.50 C1078.92 804.92 1080.82 809.62 1082.60 809.40 C1084.38 809.18 1086.17 803.35 1087.90 803.20 C1089.63 803.05 1092.15 807.62 1093.00 808.50" fill="none" stroke="#F2426E" stroke-width="2" stroke-linejoin="round" stroke-linecap="round"/><path d="M1023.90 862.20 C1024.72 862.55 1027.10 865.13 1028.80 864.30 C1030.50 863.47 1032.33 856.98 1034.10 857.20 C1035.87 857.42 1037.62 866.35 1039.40 865.60 C1041.18 864.85 1043.17 854.25 1044.80 852.70 C1046.43 851.15 1048.10 855.52 1049.20 856.30 C1050.30 857.08 1050.37 856.73 1051.40 857.40 C1052.43 858.07 1053.83 860.22 1055.40 860.30 C1056.97 860.38 1059.02 857.05 1060.80 857.90 C1062.58 858.75 1064.47 864.85 1066.10 865.40 C1067.73 865.95 1069.57 862.05 1070.60 861.20 C1071.63 860.35 1071.20 860.85 1072.30 860.30 C1073.40 859.75 1075.48 857.48 1077.20 857.90 C1078.92 858.32 1080.82 863.02 1082.60 862.80 C1084.38 862.58 1086.17 856.75 1087.90 856.60 C1089.63 856.45 1092.15 861.02 1093.00 861.90" fill="none" stroke="#2B9AFF" stroke-width="2" stroke-linejoin="round" stroke-linecap="round"/></svg>
<svg class="a" style="left:672.70px;top:733.10px;width:37.60px;height:37.60px" viewBox="0 0 40 40"><defs><clipPath id="cau0"><circle cx="20" cy="20" r="20"/></clipPath></defs><g clip-path="url(#cau0)"><rect width="40" height="40" fill="#D2BE88"/><path d="M0 0 H13 Q11 20 14 40 H0Z" fill="#7EA57C"/><path d="M8 0 H13 Q11 20 14 40 H8Z" fill="#A7B283" opacity=".6"/><path d="M3 40 Q6 32 14 31 L28 31 Q35 32 38 40Z" fill="#2A2321"/><path d="M28 30 Q34 31 36 35 L33 40 L28 36Z" fill="#1E8C78"/><path d="M12 16 Q11 4 20.5 4 Q30 4 29.5 16 Q29 27 24 32 L24 37 L15 37 L15 31 Q12 26 12 16Z" fill="#EAC3AD"/><path d="M12 16 Q11 5 16 4.5 L20 5 Q18 20 20.5 37 L15 37 L15 31 Q12 26 12 16Z" fill="#D8163F"/><path d="M11.5 12 Q12 2.6 20.5 2.6 Q29.5 2.6 29.6 12 Q28 6 20.5 6 Q14 6 11.5 12Z" fill="#2E2622"/><ellipse cx="29.6" cy="15.5" rx="1.6" ry="2.6" fill="#E0AF98"/><ellipse cx="21" cy="23" rx="3.6" ry="3.4" fill="#4A2A2A"/><rect x="18" y="20.2" width="6" height="1.3" fill="#F3E6E0"/><circle cx="16.8" cy="14" r="1.1" fill="#5C6B80"/><circle cx="24.4" cy="13.6" r="1" fill="#4E8A6E"/></g></svg>
<div class="t" style="left:718.20px;top:738.00px;font-size:10.60px;color:#3A3F58;letter-spacing:0.41px;-webkit-text-stroke:0.40px #3A3F58;">Guy Hawkins</div>
<div class="t" style="left:718.00px;top:756.00px;font-size:9.80px;color:#99A1B7;letter-spacing:0.14px;color:#B0B7C8;">Haiti</div>
<div class="t" style="left:946.38px;top:747.00px;font-size:11.40px;color:#5E6580;letter-spacing:-0.17px;-webkit-text-stroke:0.35px #5E6580;">78.34%</div>
<div class="r" style="left:1125.90px;top:740.60px;width:22.6px;height:22.6px;border-radius:50%;background:#F9F9F9"></div>
<svg class="a" style="left:1131.20px;top:745.90px;width:12px;height:12px" viewBox="0 0 12 12"><path d="M1.8 6 H10 M7 3 L10 6 L7 9" fill="none" stroke="#99A1B7" stroke-width="1.3" stroke-linecap="round" stroke-linejoin="round"/></svg>
<svg class="a" style="left:672.70px;top:786.40px;width:37.60px;height:37.60px" viewBox="0 0 40 40"><defs><clipPath id="cau1"><circle cx="20" cy="20" r="20"/></clipPath></defs><g clip-path="url(#cau1)"><rect width="40" height="40" fill="#F4C955"/><path d="M7 34 Q7 14 11 7 Q15 3 20 3.5 Q26 3.5 29 8 Q33 15 33 34Z" fill="#9C6E52"/><path d="M14 8 Q20 5 26 8 L25 13 L15 13Z" fill="#7E543E"/><ellipse cx="19.6" cy="18.6" rx="5.6" ry="8.6" fill="#D9AE97"/><path d="M13 13 Q15 7 20 7 Q25 7 27 13 L26 30 L24 30 L24.5 14 Q20 10 15.5 14 L16 30 L14 30Z" fill="#94684D"/><path d="M4 40 Q6 32 13 32 L27 32 Q34 32 36 40Z" fill="#DCE5EF"/><rect x="17" y="26" width="6" height="6" fill="#C99A82"/></g></svg>
<div class="t" style="left:718.20px;top:791.00px;font-size:10.60px;color:#3A3F58;letter-spacing:0.33px;-webkit-text-stroke:0.40px #3A3F58;">Jane Cooper</div>
<div class="t" style="left:718.00px;top:809.00px;font-size:9.80px;color:#99A1B7;letter-spacing:0.06px;color:#B0B7C8;">Monaco</div>
<div class="t" style="left:946.38px;top:800.00px;font-size:11.40px;color:#5E6580;letter-spacing:-0.17px;-webkit-text-stroke:0.35px #5E6580;">63.83%</div>
<div class="r" style="left:1125.90px;top:793.90px;width:22.6px;height:22.6px;border-radius:50%;background:#F9F9F9"></div>
<svg class="a" style="left:1131.20px;top:799.20px;width:12px;height:12px" viewBox="0 0 12 12"><path d="M1.8 6 H10 M7 3 L10 6 L7 9" fill="none" stroke="#99A1B7" stroke-width="1.3" stroke-linecap="round" stroke-linejoin="round"/></svg>
<svg class="a" style="left:672.70px;top:839.70px;width:37.60px;height:37.60px" viewBox="0 0 40 40"><defs><clipPath id="cau2"><circle cx="20" cy="20" r="20"/></clipPath></defs><g clip-path="url(#cau2)"><rect width="40" height="40" fill="#6CC0DD"/><rect x="28" y="12.8" width="12" height="1.1" fill="#253445" opacity=".8"/><path d="M3 40 Q6 32 13 31 L27 31 Q34 32 37 40Z" fill="#CF1530"/><path d="M13 24 L27 24 L27 32 Q20 36 13 32Z" fill="#EEC8B0"/><ellipse cx="19.5" cy="15.5" rx="8.2" ry="11" fill="#EBC4A8"/><path d="M11.5 16 Q12 27 19.5 27.5 Q27 27 27.5 16 Q26 21 24 19 Q20 17 15 19 Q13 21 11.5 16Z" fill="#7A5741"/><path d="M10.5 13 Q10 2.4 20 2.4 Q29 2.4 28.8 13 Q27.5 6 20 5.5 Q12.5 6 10.5 13Z" fill="#7B5A45"/><path d="M16.6 17.6 Q19.6 21 22.8 17.6Z" fill="#fff"/><rect x="13" y="11.5" width="4.5" height="1" fill="#8D6A55"/><rect x="21.5" y="11.5" width="4.5" height="1" fill="#8D6A55"/></g></svg>
<div class="t" style="left:718.20px;top:844.00px;font-size:10.60px;color:#3A3F58;letter-spacing:0.48px;-webkit-text-stroke:0.40px #3A3F58;">Jacob Jones</div>
<div class="t" style="left:718.00px;top:863.00px;font-size:9.80px;color:#99A1B7;letter-spacing:0.11px;color:#B0B7C8;">Poland</div>
<div class="t" style="left:946.38px;top:853.00px;font-size:11.40px;color:#5E6580;letter-spacing:-0.17px;-webkit-text-stroke:0.35px #5E6580;">92.56%</div>
<div class="r" style="left:1125.90px;top:847.20px;width:22.6px;height:22.6px;border-radius:50%;background:#F9F9F9"></div>
<svg class="a" style="left:1131.20px;top:852.50px;width:12px;height:12px" viewBox="0 0 12 12"><path d="M1.8 6 H10 M7 3 L10 6 L7 9" fill="none" stroke="#99A1B7" stroke-width="1.3" stroke-linecap="round" stroke-linejoin="round"/></svg>
<svg class="a" style="left:672.70px;top:893.00px;width:37.60px;height:37.60px" viewBox="0 0 40 40"><defs><clipPath id="cau3"><circle cx="20" cy="20" r="20"/></clipPath></defs><g clip-path="url(#cau3)"><rect width="40" height="40" fill="#E1E3E8"/><path d="M6 40 Q9 31 20 31 Q31 31 34 40Z" fill="#C6D0DC"/><ellipse cx="20" cy="20" rx="7.5" ry="10" fill="#D9A68A"/><path d="M12 21 Q13 31 20 31 Q27 31 28 21 Q25 27 20 27 Q15 27 12 21Z" fill="#3B281C"/><path d="M6.5 22 Q4 8 12 4 Q20 0 28 4 Q36 8 33.5 22 Q31 14 28.5 12 Q20 9 11.5 12 Q9 14 6.5 22Z" fill="#4A2F1E"/><rect x="13.5" y="17" width="5.5" height="3" rx="1" fill="none" stroke="#333" stroke-width=".8"/><rect x="21" y="17" width="5.5" height="3" rx="1" fill="none" stroke="#333" stroke-width=".8"/></g></svg>
<div class="t" style="left:718.20px;top:898.00px;font-size:10.60px;color:#3A3F58;letter-spacing:0.20px;-webkit-text-stroke:0.40px #3A3F58;">Sean Fisher</div>
<div class="t" style="left:718.00px;top:916.00px;font-size:9.80px;color:#99A1B7;letter-spacing:0.10px;color:#B0B7C8;">Spain</div>
</body></html>
